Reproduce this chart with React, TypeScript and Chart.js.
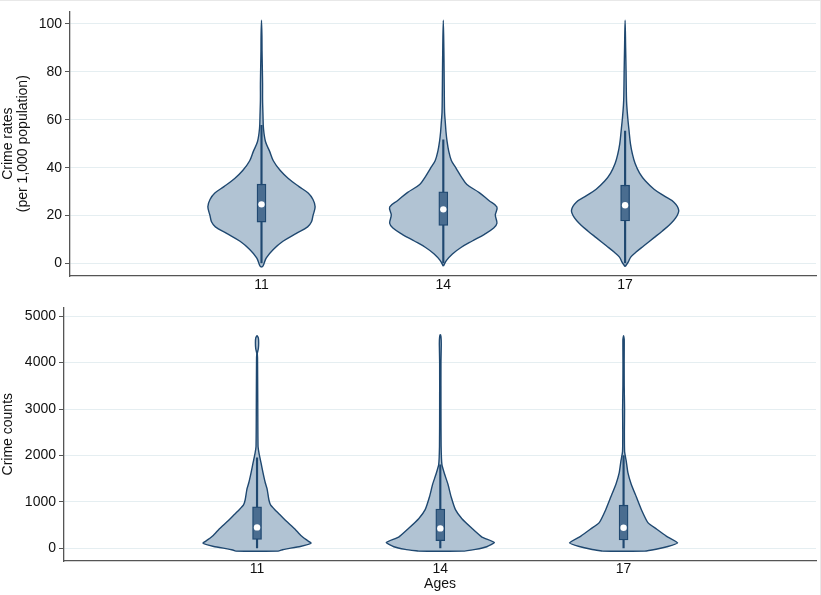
import React, { useEffect, useRef } from "react";
import { Chart, registerables } from "chart.js";

Chart.register(...registerables);

const FONT = '"Liberation Sans", Arial, Helvetica, sans-serif';
Chart.defaults.font.family = FONT;
Chart.defaults.font.size = 14;
Chart.defaults.color = "#111";

const NAVY = "#1f4870";
const VIOLIN_FILL = "#b1c3d3";
const BOX_FILL = "#4a6d90";
const GRID = "#e5eef1";
const AXIS = "#555";

// categories
const AGES = [11, 14, 17];
const RATE_TICKS = [0, 20, 40, 60, 80, 100];
const COUNT_TICKS = [0, 1000, 2000, 3000, 4000, 5000];

// crime rates: value levels and relative density (1 = widest point)
const RATE_LEVELS_11 = [-1.6, -0.9, 2.4, 5.9, 9.3, 12.6, 15.3, 17.3, 20, 23.7, 26.7, 29.4, 32.1, 35.5, 38.8, 42.9, 46.9, 50.9, 56.3, 61.7, 68.4, 75, 82, 88.6, 95, 101.5];
const RATE_DENSITY_11 = [0, 0.03, 0.09, 0.22, 0.4, 0.65, 0.86, 0.93, 0.96, 1.0, 0.96, 0.87, 0.7, 0.5, 0.35, 0.22, 0.15, 0.074, 0.037, 0.028, 0.02, 0.02, 0.015, 0.01, 0.008, 0];
const RATE_LEVELS_14 = [-1.1, 1.3, 4, 6.7, 9.4, 12.1, 14.8, 16.8, 20.2, 23.6, 26.3, 29.6, 33, 36.4, 39.7, 43, 47, 51, 55, 59, 63, 70, 80, 90, 101.5];
const RATE_DENSITY_14 = [0, 0.06, 0.17, 0.33, 0.54, 0.76, 0.94, 1.0, 0.97, 1.0, 0.85, 0.67, 0.44, 0.33, 0.24, 0.15, 0.1, 0.07, 0.05, 0.037, 0.024, 0.019, 0.015, 0.01, 0];
const RATE_LEVELS_17 = [-1.3, 0.7, 2.7, 4.7, 7.4, 10.8, 13.5, 16.2, 18.9, 22.2, 25.6, 28.3, 31, 34.4, 37.7, 41.8, 45.8, 49.9, 55.3, 60.6, 66, 70, 80, 90, 101.5];
const RATE_DENSITY_17 = [0, 0.06, 0.105, 0.2, 0.35, 0.54, 0.69, 0.83, 0.94, 1.0, 0.91, 0.72, 0.54, 0.38, 0.27, 0.185, 0.135, 0.1, 0.074, 0.05, 0.031, 0.024, 0.018, 0.01, 0];

const RATE_Q1 = [17.3, 15.9, 17.8];
const RATE_MEDIAN = [24.7, 22.6, 24.3];
const RATE_Q3 = [33.1, 29.9, 32.7];
const RATE_LOW = [0, 0, 0];
const RATE_HIGH = [57.7, 51.6, 55.3];

// crime counts
const COUNT_LEVELS_11 = [-60, -30, -10, 40, 112, 187, 278, 416, 590, 729, 833, 937, 1041, 1284, 1423, 1631, 1839, 2047, 2186, 2600, 3200, 3700, 4100, 4200, 4300, 4420, 4530, 4580];
const COUNT_DENSITY_11 = [0.39, 0.47, 0.55, 0.8, 1.0, 0.91, 0.81, 0.7, 0.54, 0.42, 0.33, 0.25, 0.22, 0.185, 0.15, 0.11, 0.074, 0.037, 0.019, 0.015, 0.013, 0.011, 0.009, 0.005, 0.024, 0.03, 0.024, 0];
const COUNT_LEVELS_14 = [-60, -21, 35, 125, 243, 437, 638, 833, 1110, 1388, 1596, 1804, 2200, 3000, 4000, 4400, 4560, 4600];
const COUNT_DENSITY_14 = [0.4, 0.65, 0.86, 1.0, 0.77, 0.58, 0.4, 0.28, 0.2, 0.14, 0.08, 0.03, 0.015, 0.012, 0.012, 0.018, 0.012, 0];
const COUNT_LEVELS_17 = [-60, -20, 40, 118, 264, 416, 555, 833, 1110, 1388, 1631, 1874, 2082, 2500, 3000, 3500, 4000, 4500, 4580];
const COUNT_DENSITY_17 = [0.39, 0.6, 0.82, 1.0, 0.79, 0.61, 0.45, 0.33, 0.235, 0.14, 0.08, 0.05, 0.019, 0.015, 0.018, 0.012, 0.011, 0.012, 0];

const COUNT_Q1 = [194, 167, 180];
const COUNT_MEDIAN = [451, 430, 444];
const COUNT_Q3 = [895, 847, 930];
const COUNT_LOW = [0, 0, 0];
const COUNT_HIGH = [1950, 1800, 2000];

// widest half-width of a violin, in x-axis units
const HALF = 0.885;

function violinPoints(center: number, levels: number[], density: number[]) {
  const left = levels.map((y, i) => ({ x: center - density[i] * HALF, y }));
  const right = levels.map((y, i) => ({ x: center + density[i] * HALF, y }));
  const pts = [...left];
  for (let i = right.length - 2; i >= 0; i--) pts.push(right[i]);
  if (density[0] > 0) pts.push(left[0]);
  return pts;
}

// fills the closed outline of violin datasets, using the line element's own path
const violinFillPlugin = {
  id: "violinFill",
  beforeDatasetDraw(chart: any, args: any) {
    const ds = chart.data.datasets[args.index];
    if (!ds.violinFill) return;
    const line = args.meta.dataset;
    if (!line) return;
    const ctx = chart.ctx;
    line.updateControlPoints(chart.chartArea, "x");
    ctx.save();
    ctx.beginPath();
    line.path(ctx);
    ctx.closePath();
    ctx.fillStyle = ds.violinFill;
    ctx.fill();
    ctx.restore();
  },
};

function buildDatasets(levels: number[][], density: number[][], q1: number[], med: number[], q3: number[], lo: number[], hi: number[], tension: number) {
  const violins = AGES.map((age, k) => ({
    type: "line",
    data: violinPoints(age, levels[k], density[k]),
    borderColor: NAVY,
    borderWidth: 1.4,
    pointRadius: 0,
    tension,
    fill: false,
    violinFill: VIOLIN_FILL,
    order: 4,
  }));
  const whiskers = {
    type: "bar",
    data: AGES.map((age, k) => ({ x: age, y: [lo[k], hi[k]] })),
    backgroundColor: NAVY,
    borderWidth: 0,
    barThickness: 1.5,
    grouped: false,
    order: 3,
  };
  const boxes = {
    type: "bar",
    data: AGES.map((age, k) => ({ x: age, y: [q1[k], q3[k]] })),
    backgroundColor: BOX_FILL,
    borderColor: NAVY,
    borderWidth: 1.3,
    borderSkipped: false,
    barThickness: 9,
    grouped: false,
    order: 2,
  };
  const medians = {
    type: "scatter",
    data: AGES.map((age, k) => ({ x: age, y: med[k] })),
    pointRadius: 3.2,
    pointBackgroundColor: "#fff",
    pointBorderWidth: 0,
    order: 1,
  };
  return [medians, boxes, whiskers, ...violins];
}

function makeConfig(opts: any) {
  return {
    type: "scatter",
    data: {
      datasets: buildDatasets(opts.levels, opts.density, opts.q1, opts.med, opts.q3, opts.lo, opts.hi, opts.tension),
    },
    options: {
      animation: false,
      responsive: false,
      maintainAspectRatio: false,
      events: [],
      layout: { padding: { top: opts.padTop, right: 1, left: 0, bottom: 0 } },
      plugins: { legend: { display: false }, tooltip: { enabled: false } },
      scales: {
        x: {
          type: "linear",
          min: 7.84,
          max: 20.15,
          offset: false,
          afterBuildTicks: (s: any) => {
            s.ticks = AGES.map((v) => ({ value: v }));
          },
          afterFit: (s: any) => {
            s.height = opts.xHeight;
          },
          grid: { display: false, drawTicks: false },
          border: { display: true, color: AXIS, width: 1.3 },
          ticks: { padding: opts.xPad, maxRotation: 0, autoSkip: false, color: "#111", callback: (v: any) => String(v) },
          title: opts.xTitle
            ? { display: true, text: opts.xTitle, color: "#111", font: { size: 14 }, padding: { top: 0, bottom: 2.5 } }
            : { display: false },
        },
        y: {
          type: "linear",
          min: opts.yMin,
          max: opts.yMax,
          afterBuildTicks: (s: any) => {
            s.ticks = opts.yTicks.map((v: number) => ({ value: v }));
          },
          afterFit: (s: any) => {
            s.width = opts.yWidth;
          },
          grid: { color: GRID, lineWidth: 1, tickColor: AXIS, tickLength: 5, drawTicks: true },
          border: { display: true, color: AXIS, width: 1.3 },
          ticks: { padding: 3, color: "#111", callback: (v: any) => String(v) },
          title: {
            display: true,
            text: opts.yTitle,
            color: "#111",
            font: { size: 14, lineHeight: 1.05 },
            padding: { top: 1, bottom: 0 },
          },
        },
      },
    },
    plugins: [violinFillPlugin],
  };
}

function Panel({ config, top, height }: { config: any; top: number; height: number }) {
  const canvasRef = useRef<HTMLCanvasElement>(null);
  useEffect(() => {
    if (!canvasRef.current) return;
    const chart = new Chart(canvasRef.current, config as any);
    return () => chart.destroy();
  }, [config]);
  return (
    <canvas
      ref={canvasRef}
      width={820}
      height={height}
      style={{ position: "absolute", left: 0, top, width: 820, height }}
    />
  );
}

const TOP_CONFIG = makeConfig({
  levels: [RATE_LEVELS_11, RATE_LEVELS_14, RATE_LEVELS_17],
  density: [RATE_DENSITY_11, RATE_DENSITY_14, RATE_DENSITY_17],
  q1: RATE_Q1,
  med: RATE_MEDIAN,
  q3: RATE_Q3,
  lo: RATE_LOW,
  hi: RATE_HIGH,
  tension: 0.35,
  padTop: 2,
  xHeight: 22,
  xPad: 1,
  yMin: -5.2,
  yMax: 105.2,
  yTicks: RATE_TICKS,
  yWidth: 70,
  yTitle: ["Crime rates", "(per 1,000 population)"],
});

const BOTTOM_CONFIG = makeConfig({
  levels: [COUNT_LEVELS_11, COUNT_LEVELS_14, COUNT_LEVELS_17],
  density: [COUNT_DENSITY_11, COUNT_DENSITY_14, COUNT_DENSITY_17],
  q1: COUNT_Q1,
  med: COUNT_MEDIAN,
  q3: COUNT_Q3,
  lo: COUNT_LOW,
  hi: COUNT_HIGH,
  tension: 0.15,
  padTop: 4,
  xHeight: 34,
  xPad: 0,
  xTitle: "Ages",
  yMin: -272,
  yMax: 5188,
  yTicks: COUNT_TICKS,
  yWidth: 64,
  yTitle: "Crime counts",
});

export default function App() {
  return (
    <div style={{ position: "fixed", left: 0, top: 0, width: 821, height: 595, background: "#fff" }}>
      <Panel config={TOP_CONFIG} top={0} height={298} />
      <Panel config={BOTTOM_CONFIG} top={296} height={299} />
      <div style={{ position: "absolute", left: 0, top: 0, width: 821, height: 1, background: "#e8e8e8" }} />
      <div style={{ position: "absolute", left: 820, top: 0, width: 1, height: 595, background: "#e8e8e8" }} />
    </div>
  );
}
